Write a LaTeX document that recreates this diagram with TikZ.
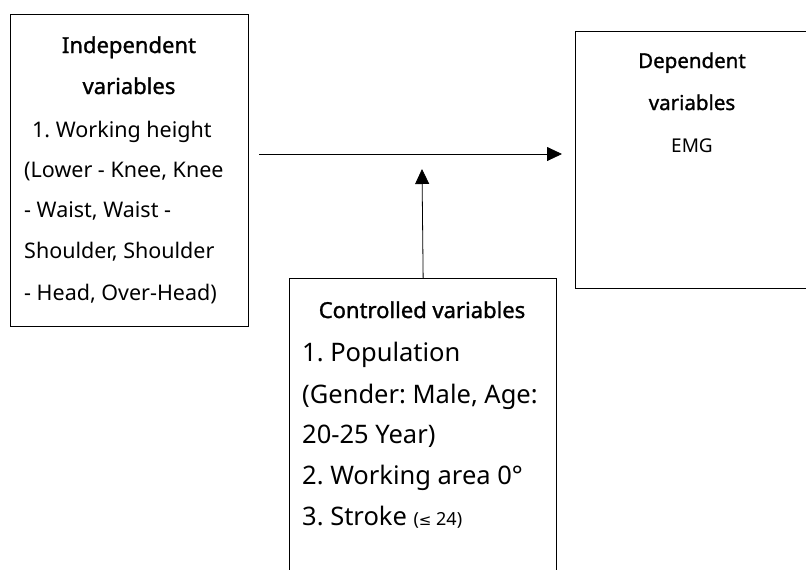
\documentclass[tikz,border=0pt]{standalone}
\usepackage{fontspec}
\setmainfont{Noto Sans}
\newfontfamily\headfont{Noto Sans}[FakeBold=1.3]
\newfontfamily\symfont{DejaVu Sans}
\usetikzlibrary{arrows.meta}
\frenchspacing

\tikzset{
  varbox/.style={draw, line width=1.3pt, inner sep=0pt, anchor=north west},
  link/.style={line width=0.8pt, -{Triangle[length=15pt,width=14pt]}},
  headline/.style={font=\headfont\fontsize{22}{26}\selectfont, inner sep=0pt, anchor=base},
  itemline/.style={font=\fontsize{21.5}{26}\selectfont, inner sep=0pt, anchor=base west},
  bigitem/.style={font=\fontsize{25.5}{30}\selectfont, inner sep=0pt, anchor=base west},
}

\begin{document}
\begin{tikzpicture}[x=1pt, y=-1pt]
  \useasboundingbox (0,0) rectangle (806,570);
  \clip (0,0) rectangle (806,570);

  % the three variable boxes
  \node[varbox, minimum width=238pt, minimum height=312pt] (indep) at (10,14) {};
  \node[varbox, minimum width=240pt, minimum height=257pt] (dep) at (575,31) {};
  \node[varbox, minimum width=267pt, minimum height=320pt] (ctrl) at (289,278) {};

  % independent variables
  \node[headline] (ih1) at (129,53) {Independent};
  \node[headline] (ih2) at (129,94) {variables};
  \node[itemline] (il1) at (32,137) {1. Working height};
  \node[itemline] (il2) at (24,177) {(Lower - Knee, Knee};
  \node[itemline] (il3) at (24,217) {- Waist, Waist -};
  \node[itemline] (il4) at (24,258) {Shoulder, Shoulder};
  \node[itemline] (il5) at (24,300) {- Head, Over-Head)};

  % dependent variables
  \node[headline, font=\headfont\fontsize{20.5}{24}\selectfont] (dh1) at (692,68) {Dependent};
  \node[headline, font=\headfont\fontsize{20.5}{24}\selectfont] (dh2) at (692,110) {variables};
  \node[font=\fontsize{19}{23}\selectfont, inner sep=0pt, anchor=base] (dl1) at (692,152) {EMG};

  % controlled variables
  \node[headline] (ch1) at (422,318) {Controlled variables};
  \node[bigitem] (cl1) at (302,361) {1. Population};
  \node[bigitem] (cl2) at (302,403) {(Gender: Male, Age:};
  \node[bigitem] (cl3) at (302,443) {20-25 Year)};
  \node[bigitem] (cl4) at (302,484) {2. Working area 0°};
  \node[bigitem] (cl5) at (302,525) {3. Stroke {\fontsize{18}{22}\selectfont({\symfont\fontsize{15}{22}\selectfont ≤} 24)}};

  % connectors
  \coordinate (level) at (0,154);
  \coordinate (ctrltip) at (422,169);
  \draw[link] ([xshift=10pt]indep.east |- level) -- ([xshift=-13pt]dep.west |- level);
  \draw[link] (ctrl.north) -- (ctrltip);
\end{tikzpicture}
\end{document}
